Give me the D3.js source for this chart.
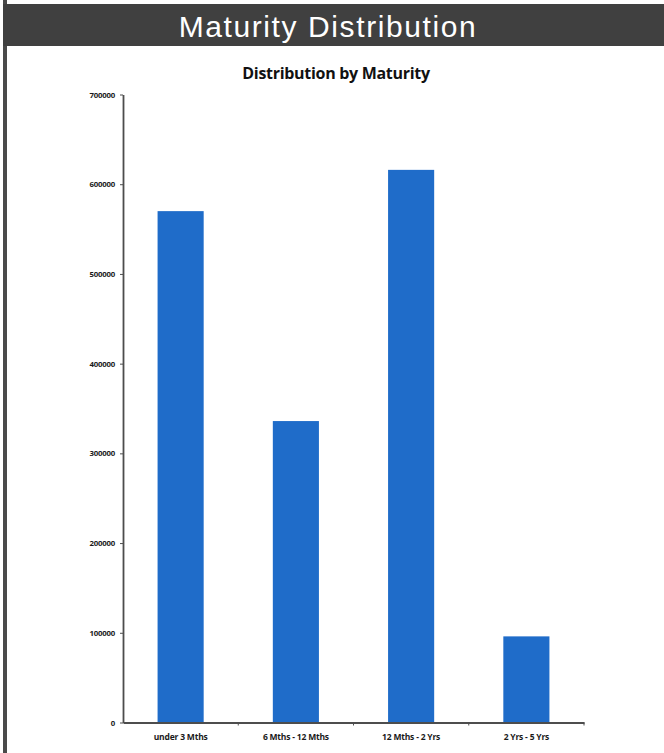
<!DOCTYPE html>
<html>
<head>
<meta charset="utf-8">
<script src="https://cdn.jsdelivr.net/npm/d3@7"></script>
<style>
  html, body { margin: 0; padding: 0; background: #fff; }
  svg { display: block; }
</style>
</head>
<body>
<script>
// Maturity buckets and amounts
const categories = ["under 3 Mths", "6 Mths - 12 Mths", "12 Mths - 2 Yrs", "2 Yrs - 5 Yrs"];
const amounts = [570000, 336000, 616000, 96000];
const yTicks = [0, 100000, 200000, 300000, 400000, 500000, 600000, 700000];

const W = 664, H = 753;
const svg = d3.select("body").append("svg").attr("width", W).attr("height", H);

// panel frame: left rule and header band
svg.append("rect").attr("x", 3).attr("y", 0).attr("width", 4).attr("height", H).attr("fill", "#4a4a4a");
svg.append("rect").attr("x", 3).attr("y", 4).attr("width", W - 3).attr("height", 42).attr("fill", "#404040");
svg.append("text")
  .attr("x", 328).attr("y", 37)
  .attr("text-anchor", "middle")
  .attr("fill", "#ffffff")
  .style("font-family", "'Liberation Sans', Arial, sans-serif")
  .style("font-size", "30px")
  .style("letter-spacing", "1.6px")
  .text("Maturity Distribution");

// chart title
svg.append("text")
  .attr("x", 336).attr("y", 79)
  .attr("text-anchor", "middle")
  .attr("fill", "#111")
  .style("font-family", "'Open Sans', sans-serif")
  .style("font-weight", "bold")
  .style("font-size", "16px")
  .style("letter-spacing", "-0.3px")
  .text("Distribution by Maturity");

const plotLeft = 123, plotRight = 584, plotTop = 94.5, plotBottom = 722.5;

const x = d3.scaleBand().domain(categories).range([plotLeft, plotRight]).paddingInner(0.6).paddingOuter(0.3);
const y = d3.scaleLinear().domain([0, 700000]).range([plotBottom, plotTop]);

// bars
svg.append("g").selectAll("rect")
  .data(categories)
  .join("rect")
  .attr("x", d => x(d))
  .attr("width", x.bandwidth())
  .attr("y", (d, i) => y(amounts[i]))
  .attr("height", (d, i) => y(0) - y(amounts[i]))
  .attr("fill", "#1f6cc9");

const axisColor = "#4d4d4d";
const labelFont = "'Open Sans', sans-serif";

// y axis
const yAxis = svg.append("g")
  .attr("transform", `translate(${plotLeft},0)`)
  .call(d3.axisLeft(y).tickValues(yTicks).tickFormat(d3.format("d")).tickSizeInner(3).tickSizeOuter(0).tickPadding(5));
yAxis.select(".domain").attr("stroke", axisColor).attr("stroke-width", 1.8);
yAxis.selectAll(".tick line").attr("stroke", axisColor);
yAxis.selectAll(".tick text")
  .attr("fill", "#1a1a1a")
  .style("font-family", labelFont)
  .style("font-weight", "bold")
  .style("font-size", "7.8px")
  .style("letter-spacing", "-0.2px");

// x axis: labels under each bar, ticks at bucket boundaries
const xAxis = svg.append("g")
  .attr("transform", `translate(0,${plotBottom})`)
  .call(d3.axisBottom(x).tickSize(0).tickPadding(11));
xAxis.select(".domain").attr("stroke", axisColor).attr("stroke-width", 1.8);
xAxis.selectAll(".tick text")
  .attr("fill", "#1a1a1a")
  .style("font-family", labelFont)
  .style("font-weight", "bold")
  .style("font-size", "8.5px")
  .style("letter-spacing", "-0.2px");

const step = x.step();
const boundaries = categories.map((d, i) => x(d) + x.bandwidth() / 2 + step / 2);
xAxis.selectAll(".bound")
  .data(boundaries)
  .join("line")
  .attr("class", "bound")
  .attr("x1", d => d).attr("x2", d => d)
  .attr("y1", 0).attr("y2", 3)
  .attr("stroke", axisColor);
</script>
</body>
</html>
